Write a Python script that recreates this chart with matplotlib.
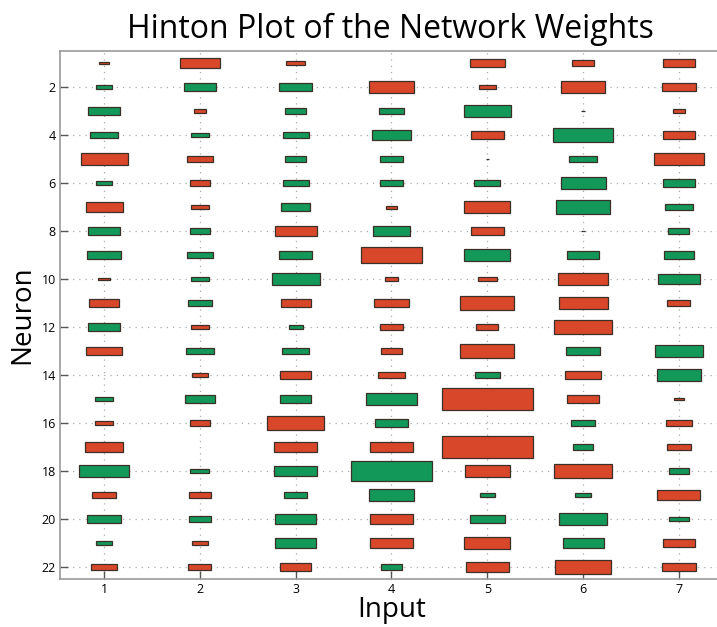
import numpy as np
import matplotlib
matplotlib.use("Agg")
import matplotlib.pyplot as plt
from matplotlib.patches import Rectangle

plt.rcParams['font.family'] = ['Open Sans', 'DejaVu Sans']

# weight per neuron (rows 1..22) for each input (cols 1..7)
# positive = red, negative = green, 0 = nothing drawn
inputs = [1, 2, 3, 4, 5, 6, 7]
neurons = list(range(1, 23))

in1 = [0.11, -0.17, -0.34, -0.29, 0.49, -0.16, 0.385, -0.34, -0.36, 0.12, 0.31,
       -0.33, 0.37, 0.0, -0.19, 0.18, 0.40, -0.53, 0.25, -0.35, -0.16, 0.27]
in2 = [0.42, -0.33, 0.13, -0.18, 0.27, 0.21, 0.19, -0.21, -0.27, -0.18, -0.25,
       0.19, -0.29, 0.17, -0.31, 0.21, 0.0, -0.20, 0.23, -0.23, 0.17, 0.24]
in3 = [0.20, -0.34, -0.22, -0.27, -0.22, -0.27, -0.30, 0.44, -0.35, -0.50, 0.31,
       -0.15, -0.28, 0.33, -0.33, 0.59, 0.45, -0.45, -0.24, -0.43, -0.43, 0.33]
in4 = [0.0, 0.47, -0.27, -0.40, -0.25, -0.23, 0.125, -0.39, 0.63, 0.14, 0.36,
       0.23, 0.22, 0.28, -0.53, -0.34, 0.44, -0.84, -0.48, 0.44, 0.44, -0.22]
in5 = [0.36, 0.18, -0.49, 0.35, 0.03, -0.27, 0.48, 0.35, -0.48, 0.20, 0.56,
       0.23, 0.56, -0.26, 0.95, 0.0, 0.95, 0.47, -0.16, -0.36, 0.48, 0.45]
in6 = [0.23, 0.46, 0.04, -0.62, -0.29, -0.47, -0.56, 0.04, -0.34, 0.52, 0.51,
       0.61, -0.36, 0.37, 0.33, -0.25, -0.21, 0.60, -0.16, -0.50, -0.43, 0.58]
in7 = [0.34, 0.36, 0.13, 0.34, 0.52, -0.34, -0.29, -0.22, -0.31, -0.44, 0.24,
       0.0, -0.50, -0.46, 0.10, 0.27, 0.25, -0.21, 0.45, -0.20, 0.33, 0.36]

weights = np.array([in1, in2, in3, in4, in5, in6, in7]).T  # 22 x 7

pos_color = '#d9472b'
neg_color = '#12995a'

fig = plt.figure(figsize=(7.17, 6.27), dpi=100)
ax = fig.add_axes([60/717, 48/627, 663/717, 528/627])

for i, n in enumerate(neurons):
    for j, x in enumerate(inputs):
        w = weights[i, j]
        s = abs(w)
        if s == 0:
            continue
        c = pos_color if w > 0 else neg_color
        ax.add_patch(Rectangle((x - s/2, n - s/2), s, s, facecolor=c,
                               edgecolor='#3a3028', linewidth=0.9, zorder=3))

ax.set_xlim(0.54, 7.46)
ax.set_ylim(22.5, 0.5)
ax.set_xticks(inputs)
ax.set_yticks(range(2, 23, 2))
ax.tick_params(direction='in', length=6, width=1, color='#555555',
               labelsize=9, pad=3)
ax.grid(True, linestyle=(0, (1, 4)), color='#aaaaaa', linewidth=0.9, zorder=0)
ax.set_axisbelow(True)
for sp in ax.spines.values():
    sp.set_color('#999999')
    sp.set_linewidth(1.2)

ax.set_xlabel('Input', fontsize=20, labelpad=0)
ax.set_ylabel('Neuron', fontsize=20, labelpad=4)
fig.text(390/717, 1 - 38/627, 'Hinton Plot of the Network Weights',
         fontsize=23, ha='center', va='baseline')

fig.savefig('out.png', dpi=100)
